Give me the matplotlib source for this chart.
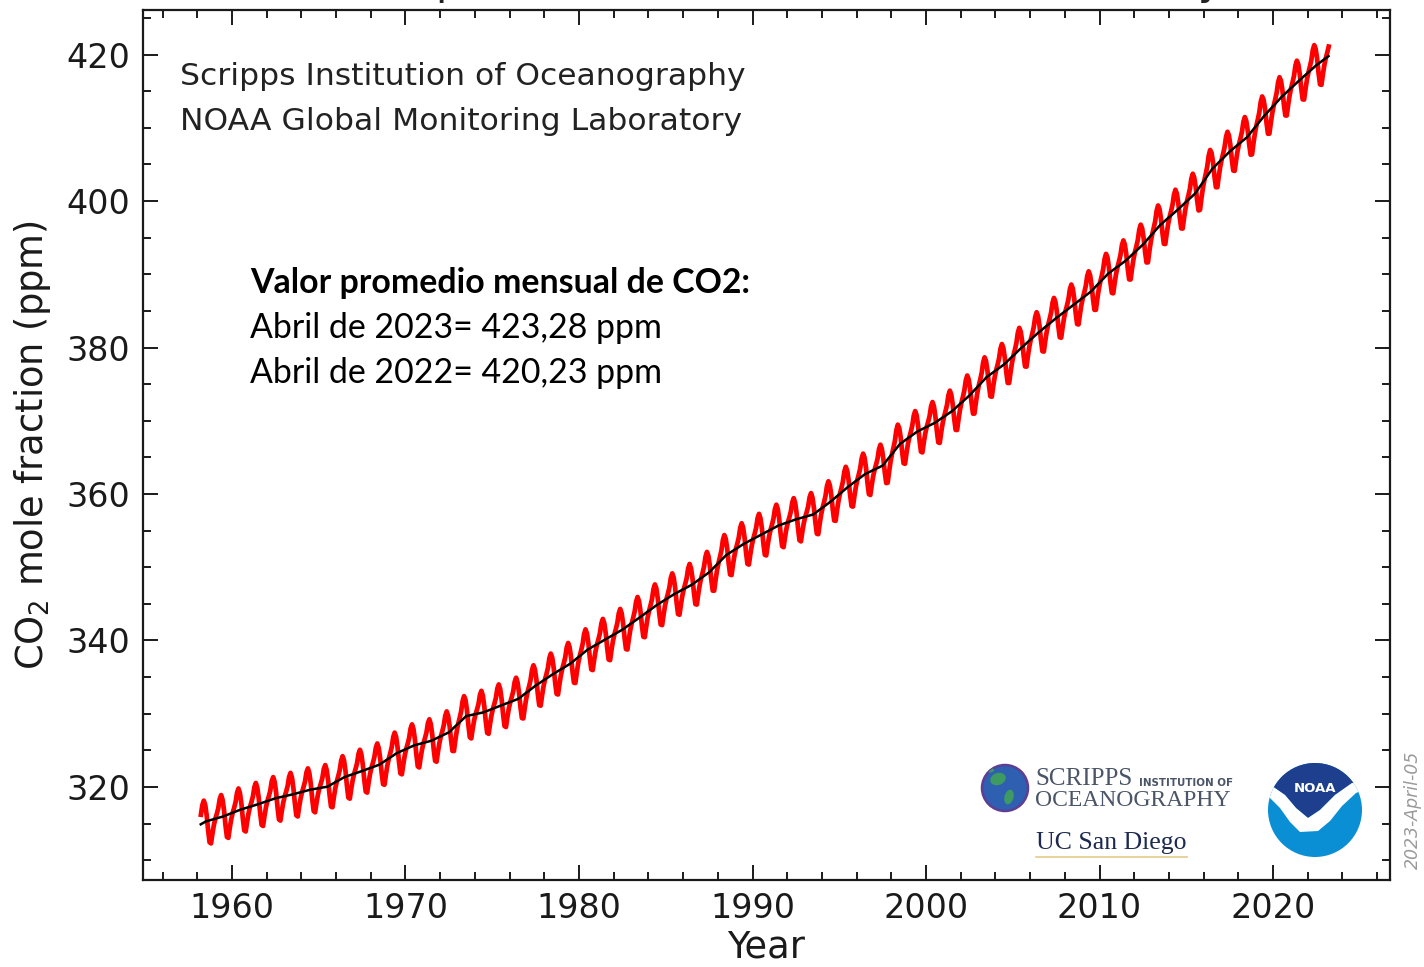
import numpy as np
import matplotlib.pyplot as plt
from matplotlib.patches import Circle, Ellipse, Polygon

# deseasonalized trend, annual means placed mid-year (ppm)
trend_year = [1958.2, 1958.5] + [y + 0.5 for y in range(1959, 2023)] + [2023.2]
trend_ppm = [314.9, 315.3,
             315.98, 316.91, 317.64, 318.45, 318.99, 319.62, 320.04, 321.37, 322.18, 323.05,
             324.62, 325.68, 326.32, 327.46, 329.68, 330.19, 331.12, 332.03, 333.84, 335.41,
             336.84, 338.76, 340.12, 341.48, 343.15, 344.87, 346.35, 347.61, 349.31, 351.69,
             353.20, 354.45, 355.70, 356.54, 357.21, 358.96, 360.97, 362.74, 363.88, 366.84,
             368.54, 369.71, 371.32, 373.45, 375.98, 377.70, 379.98, 382.09, 384.02, 385.83,
             387.64, 390.10, 391.85, 394.06, 396.74, 398.81, 401.01, 404.41, 406.76, 408.72,
             411.66, 414.24, 416.45, 418.56,
             419.8]

# mean seasonal departure from the trend, Jan..Dec (ppm)
seasonal = [0.0, 0.6, 1.3, 2.5, 3.0, 2.3, 0.8, -1.3, -3.0, -3.2, -1.9, -0.8]

# monthly means from March 1958 to March 2023
month_year = np.array([y + (m + 0.5) / 12 for y in range(1958, 2024) for m in range(12)])
month_idx = np.array([m for y in range(1958, 2024) for m in range(12)])
keep = (month_year > 1958.15) & (month_year < 2023.25)
month_year, month_idx = month_year[keep], month_idx[keep]
monthly_ppm = np.interp(month_year, trend_year, trend_ppm) + np.array(seasonal)[month_idx]

plt.rcParams['xtick.direction'] = 'in'
plt.rcParams['ytick.direction'] = 'in'

fig = plt.figure(figsize=(14.24, 9.67), dpi=100)
ax = fig.add_axes([0.1004, 0.0900, 0.8757, 0.8997])

ax.plot(month_year, monthly_ppm, color='red', lw=3.4, solid_joinstyle='round')
ax.plot(trend_year, trend_ppm, color='black', lw=1.8)

ax.set_xlim(1954.87, 2026.74)
ax.set_ylim(307.3, 426.1)
ax.set_xticks(np.arange(1960, 2021, 10))
ax.set_xticks(np.arange(1956, 2027, 2), minor=True)
ax.set_yticks(np.arange(320, 421, 20))
ax.set_yticks(np.arange(310, 426, 5), minor=True)
ax.tick_params(which='both', top=True, right=True, width=1.4, labelsize=24, colors='#1a1a1a')
ax.tick_params(which='major', length=11, pad=9)
ax.tick_params(which='minor', length=6)
for s in ax.spines.values():
    s.set_linewidth(1.6)
    s.set_color('#1a1a1a')

ax.set_xlabel('Year', fontsize=26.5, color='#1a1a1a', labelpad=2)
ax.set_ylabel('CO$_2$ mole fraction (ppm)', fontsize=26.5, color='#1a1a1a', labelpad=10)

ax.text(0.03, 0.924, 'Scripps Institution of Oceanography', transform=ax.transAxes,
        fontsize=22.6, color='#222222', va='center')
ax.text(0.03, 0.872, 'NOAA Global Monitoring Laboratory', transform=ax.transAxes,
        fontsize=22.6, color='#222222', va='center')

# title sits above the canvas, only its descenders show
fig.text(0.5357, 1.0060, 'Atmospheric CO$_2$ at Mauna Loa Observatory', fontsize=29.8,
         ha='center', va='baseline', color='#222222')

fig.text(250 / 1424, 1 - 283 / 967, 'Valor promedio mensual de CO2:', fontsize=24.4,
         family='Lato', weight='bold', va='center')
fig.text(250 / 1424, 1 - 328 / 967, 'Abril de 2023= 423,28 ppm', fontsize=24.4,
         family='Lato', va='center')
fig.text(250 / 1424, 1 - 373 / 967, 'Abril de 2022= 420,23 ppm', fontsize=24.4,
         family='Lato', va='center')

fig.text(1413 / 1424, 1 - 810 / 967, '2023-April-05', rotation=90, fontsize=12.5,
         style='italic', color='#9a9a9a', ha='center', va='center')

# logos, drawn in pixel coordinates
lax = fig.add_axes([0, 0, 1, 1], zorder=5)
lax.set_xlim(0, 1424)
lax.set_ylim(967, 0)
lax.axis('off')

globe = Circle((1005, 788), 23, facecolor='#2e5fb0', edgecolor='#5e3d94', lw=1.8)
lax.add_patch(globe)
for cx, cy, w, h, a in [(998, 779, 16, 12, -20), (1009, 797, 9, 15, 15), (990, 770, 8, 5, 0)]:
    land = Ellipse((cx, cy), w, h, angle=a, facecolor='#3e9a63', edgecolor='none')
    lax.add_patch(land)
    land.set_clip_path(globe)
lax.text(1035, 779, 'SCRIPPS', family='Liberation Serif', fontsize=18, color='#4a5568',
         va='center')
lax.text(1139, 783, 'INSTITUTION OF', family='DejaVu Sans', weight='bold', fontsize=7.4,
         color='#4a5568', va='center')
lax.text(1035, 800, 'OCEANOGRAPHY', family='Liberation Serif', fontsize=17, color='#4a5568',
         va='center')
lax.text(1036, 843, 'UC San Diego', family='Liberation Serif', fontsize=18.5,
         color='#1d2a4f', va='center')
lax.plot([1036, 1187], [857, 857], color='#e3cb8a', lw=1.2)

noaa = Circle((1315, 810), 47, facecolor='#0b8fd4', edgecolor='none')
lax.add_patch(noaa)
navy = Polygon([(1260, 740), (1370, 740), (1370, 781), (1352, 783), (1335, 795), (1320, 810),
                (1308, 818), (1296, 808), (1285, 795), (1272, 786), (1260, 784)],
               facecolor='#1d3f8e', edgecolor='none')
gull = Polygon([(1260, 784), (1272, 786), (1285, 795), (1296, 808), (1308, 818), (1320, 810),
                (1335, 795), (1352, 783), (1370, 781), (1370, 787), (1356, 793), (1342, 806),
                (1330, 821), (1318, 831), (1300, 832), (1290, 822), (1280, 808), (1270, 798),
                (1260, 796)], facecolor='white', edgecolor='none')
for p in (navy, gull):
    lax.add_patch(p)
    p.set_clip_path(noaa)
lax.text(1315, 789, 'NOAA', color='white', weight='bold', fontsize=9.5, ha='center',
         va='center')

fig.savefig('out.png', dpi=100)
